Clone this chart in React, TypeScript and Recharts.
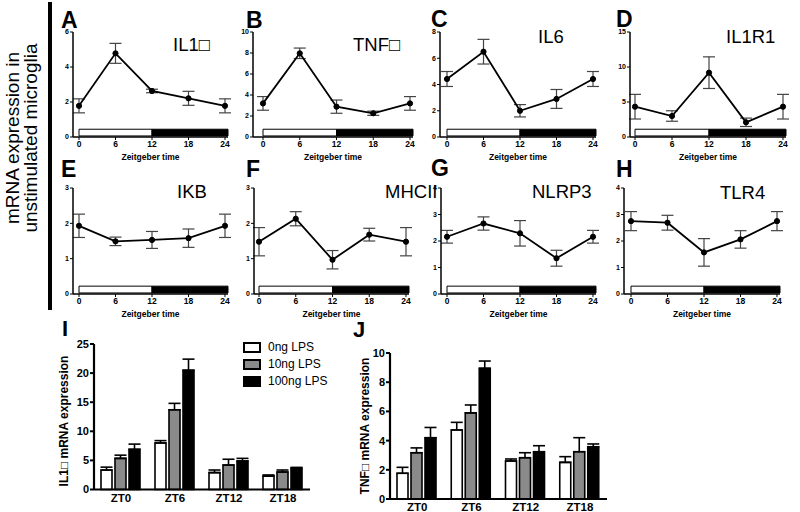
import React from 'react';
import {
  LineChart, Line, XAxis, YAxis, ErrorBar, ReferenceArea,
  BarChart, Bar, Legend,
} from 'recharts';

const FONT = '"Liberation Sans", Arial, Helvetica, sans-serif';

// ---------- Data: unstimulated microglia, mRNA over Zeitgeber time ----------
const HOURS = [0, 6, 12, 18, 24];

const IL1B_MEAN = [1.78, 4.78, 2.63, 2.21, 1.78];
const IL1B_ERR = [0.4, 0.57, 0.1, 0.4, 0.4];
const TNF_MEAN = [3.2, 7.97, 2.89, 2.26, 3.2];
const TNF_ERR = [0.65, 0.5, 0.63, 0.2, 0.65];
const IL6_MEAN = [4.42, 6.5, 2.0, 2.9, 4.42];
const IL6_ERR = [0.57, 0.94, 0.47, 0.72, 0.57];
const IL1R1_MEAN = [4.33, 3.0, 9.19, 2.1, 4.33];
const IL1R1_ERR = [1.76, 0.75, 2.26, 0.6, 1.76];
const IKB_MEAN = [1.93, 1.49, 1.53, 1.58, 1.93];
const IKB_ERR = [0.33, 0.12, 0.24, 0.26, 0.33];
const MHCII_MEAN = [1.48, 2.13, 0.97, 1.68, 1.48];
const MHCII_ERR = [0.4, 0.2, 0.26, 0.18, 0.4];
const NLRP3_MEAN = [2.16, 2.66, 2.29, 1.35, 2.16];
const NLRP3_ERR = [0.24, 0.25, 0.48, 0.3, 0.24];
const TLR4_MEAN = [2.75, 2.69, 1.57, 2.06, 2.75];
const TLR4_ERR = [0.36, 0.28, 0.52, 0.33, 0.36];

// ---------- Data: LPS stimulation ----------
const ZT = ['ZT0', 'ZT6', 'ZT12', 'ZT18'];
const LPS_LEVELS = ['0ng LPS', '10ng LPS', '100ng LPS'];

const IL1B_LPS0 = [3.34, 8.0, 2.9, 2.3];
const IL1B_LPS0_ERR = [0.5, 0.4, 0.45, 0.2];
const IL1B_LPS10 = [5.35, 13.7, 4.2, 3.0];
const IL1B_LPS10_ERR = [0.55, 1.1, 1.0, 0.35];
const IL1B_LPS100 = [6.9, 20.5, 4.9, 3.64];
const IL1B_LPS100_ERR = [0.9, 1.9, 0.45, 0.16];

const TNF_LPS0 = [1.76, 4.73, 2.6, 2.51];
const TNF_LPS0_ERR = [0.41, 0.52, 0.14, 0.39];
const TNF_LPS10 = [3.17, 5.9, 2.83, 3.24];
const TNF_LPS10_ERR = [0.33, 0.54, 0.34, 0.96];
const TNF_LPS100 = [4.2, 8.95, 3.24, 3.58];
const TNF_LPS100_ERR = [0.7, 0.5, 0.41, 0.19];

const IL1B_TICKS = [0, 5, 10, 15, 20, 25];
const TNF_TICKS = [0, 2, 4, 6, 8, 10];

// ---------- Layout of the time-course panels ----------
const PANELS = [
  { letter: 'A', title: 'IL1\u25A1', mean: IL1B_MEAN, err: IL1B_ERR, yMax: 6, yTicks: [0, 2, 4, 6], axisX: 73, x0: 79, x24: 225, top: 32, bottom: 137, tx: 173, ty: 51, lx: 61, ly: 28 },
  { letter: 'B', title: 'TNF\u25A1', mean: TNF_MEAN, err: TNF_ERR, yMax: 10, yTicks: [0, 2, 4, 6, 8, 10], axisX: 253, x0: 263, x24: 410, top: 32, bottom: 137, tx: 353, ty: 51, lx: 246, ly: 28 },
  { letter: 'C', title: 'IL6', mean: IL6_MEAN, err: IL6_ERR, yMax: 8, yTicks: [0, 2, 4, 6, 8], axisX: 440, x0: 447, x24: 593, top: 32, bottom: 137, tx: 538, ty: 43, lx: 431, ly: 27 },
  { letter: 'D', title: 'IL1R1', mean: IL1R1_MEAN, err: IL1R1_ERR, yMax: 15, yTicks: [0, 5, 10, 15], axisX: 630, x0: 635, x24: 783, top: 32, bottom: 137, tx: 726, ty: 43, lx: 616, ly: 27 },
  { letter: 'E', title: 'IKB', mean: IKB_MEAN, err: IKB_ERR, yMax: 3, yTicks: [0, 1, 2, 3], axisX: 73, x0: 79, x24: 225, top: 188, bottom: 294, tx: 177, ty: 198, lx: 61, ly: 177 },
  { letter: 'F', title: 'MHCII', mean: MHCII_MEAN, err: MHCII_ERR, yMax: 3, yTicks: [0, 1, 2, 3], axisX: 254, x0: 259, x24: 406, top: 188, bottom: 294, tx: 385, ty: 198, lx: 246, ly: 177 },
  { letter: 'G', title: 'NLRP3', mean: NLRP3_MEAN, err: NLRP3_ERR, yMax: 4, yTicks: [0, 1, 2, 3, 4], axisX: 441, x0: 447, x24: 593, top: 188, bottom: 294, tx: 532, ty: 198, lx: 431, ly: 176 },
  { letter: 'H', title: 'TLR4', mean: TLR4_MEAN, err: TLR4_ERR, yMax: 4, yTicks: [0, 1, 2, 3, 4], axisX: 624, x0: 631, x24: 777, top: 188, bottom: 294, tx: 720, ty: 199, lx: 616, ly: 177 },
];

function TimePanel({ p }: { p: any }) {
  const data = HOURS.map((h, i) => ({ h, mean: p.mean[i], err: p.err[i] }));
  const ML = 24, MT = 8, MR = 4, XH = 30;
  const xEnd = p.x24 + 3;
  const pxPerH = (p.x24 - p.x0) / 24;
  const dmin = -(p.x0 - p.axisX) / pxPerH;
  const dmax = 24 + (xEnd - p.x24) / pxPerH;
  const width = ML + (xEnd - p.axisX) + MR;
  const height = MT + (p.bottom - p.top) + XH;
  const barLo = p.yMax * 0.01;
  const barHi = p.yMax * 0.074;
  const tickStyle = { fontSize: 8.5, fontWeight: 700, fill: '#000', fontFamily: FONT };
  return (
    <div style={{ position: 'absolute', left: p.axisX - ML, top: p.top - MT }}>
      <LineChart width={width} height={height} data={data} margin={{ top: MT, right: MR, left: 0, bottom: 0 }}>
        <XAxis
          dataKey="h" type="number" domain={[dmin, dmax]} ticks={HOURS} interval={0}
          height={XH} tickSize={3} tickMargin={1}
          axisLine={{ stroke: '#000', strokeWidth: 1.5 }} tickLine={{ stroke: '#000', strokeWidth: 1 }}
          tick={tickStyle}
          label={{ value: 'Zeitgeber time', position: 'insideBottom', offset: 7, style: tickStyle }}
        />
        <YAxis
          type="number" domain={[0, p.yMax]} ticks={p.yTicks} interval={0} width={ML}
          tickSize={3} tickMargin={1}
          axisLine={{ stroke: '#000', strokeWidth: 1.5 }} tickLine={{ stroke: '#000', strokeWidth: 1 }}
          tick={{ fontSize: 7, fontWeight: 700, fill: '#000', fontFamily: FONT }}
        />
        <ReferenceArea x1={0} x2={12} y1={barLo} y2={barHi} fill="#fff" fillOpacity={1} stroke="#000" strokeWidth={1} ifOverflow="visible" />
        <ReferenceArea x1={12} x2={dmax} y1={barLo} y2={barHi} fill="#000" fillOpacity={1} stroke="#000" strokeWidth={1} ifOverflow="visible" />
        <Line
          dataKey="mean" stroke="#000" strokeWidth={1.8}
          dot={{ r: 2.6, fill: '#000', stroke: '#000', strokeWidth: 1 }}
          activeDot={false}
          isAnimationActive={false}
        >
          <ErrorBar dataKey="err" width={6} stroke="#444" strokeWidth={1.2} direction="y" isAnimationActive={false} />
        </Line>
      </LineChart>
    </div>
  );
}

const LPS_FILLS = ['#ffffff', '#8a8a8a', '#000000'];

const LPS_PANELS = [
  { key: 'I', v: [IL1B_LPS0, IL1B_LPS10, IL1B_LPS100], e: [IL1B_LPS0_ERR, IL1B_LPS10_ERR, IL1B_LPS100_ERR], yMax: 25, yTicks: IL1B_TICKS, axisX: 94, xEnd: 310, top: 344, bottom: 489.5, legend: true },
  { key: 'J', v: [TNF_LPS0, TNF_LPS10, TNF_LPS100], e: [TNF_LPS0_ERR, TNF_LPS10_ERR, TNF_LPS100_ERR], yMax: 10, yTicks: TNF_TICKS, axisX: 390, xEnd: 607, top: 353, bottom: 499, legend: false },
];

function LpsLegend() {
  return (
    <div style={{ fontFamily: FONT, fontSize: 12, color: '#000', lineHeight: '17px', whiteSpace: 'nowrap', width: 110 }}>
      {LPS_LEVELS.map((name, i) => (
        <div key={name} style={{ display: 'flex', alignItems: 'center', height: 17 }}>
          <span style={{ display: 'inline-block', flex: 'none', boxSizing: 'border-box', width: 18, height: 11, border: '2px solid #000', background: LPS_FILLS[i], marginRight: 7 }} />
          <span>{name}</span>
        </div>
      ))}
    </div>
  );
}

function LpsPanel({ q }: { q: any }) {
  const data = ZT.map((zt, i) => ({
    zt,
    v0: q.v[0][i], v1: q.v[1][i], v2: q.v[2][i],
    e0: [0, q.e[0][i]], e1: [0, q.e[1][i]], e2: [0, q.e[2][i]],
  }));
  const ML = 40, MT = 10, MR = 5, XH = 20;
  const width = ML + (q.xEnd - q.axisX) + MR;
  const height = MT + (q.bottom - q.top) + XH;
  const left = q.axisX - ML;
  const top = q.top - MT;
  const tickStyle = { fontSize: 11.5, fontWeight: 700, fill: '#000', fontFamily: FONT };
  return (
    <div style={{ position: 'absolute', left, top }}>
      <BarChart width={width} height={height} data={data} margin={{ top: MT, right: MR, left: 0, bottom: 0 }} barCategoryGap={7} barGap={3}>
        <XAxis dataKey="zt" tickLine={false} tickSize={2} tickMargin={2}
          axisLine={{ stroke: '#000', strokeWidth: 2.2 }} tick={tickStyle} height={XH} interval={0} />
        <YAxis type="number" domain={[0, q.yMax]} ticks={q.yTicks} interval={0} width={ML}
          tickSize={4} tickMargin={1}
          axisLine={{ stroke: '#000', strokeWidth: 2.2 }} tickLine={{ stroke: '#000', strokeWidth: 2 }}
          tick={{ ...tickStyle, fontSize: 11 }} />
        {[0, 1, 2].map((k) => (
          <Bar key={k} dataKey={'v' + k} name={LPS_LEVELS[k]} fill={LPS_FILLS[k]} stroke="#000" strokeWidth={1.6} isAnimationActive={false}>
            <ErrorBar dataKey={'e' + k} width={6} stroke="#000" strokeWidth={1.6} direction="y" isAnimationActive={false} />
          </Bar>
        ))}
        {q.legend && (
          <Legend layout="vertical" align="center" verticalAlign="middle"
            wrapperStyle={{ left: 243 - left, top: 338.5 - top, width: 110 }}
            content={() => <LpsLegend />} />
        )}
      </BarChart>
    </div>
  );
}

const TITLE_SIZE = 18.5;

export default function App() {
  return (
    <div style={{ position: 'absolute', left: 0, top: 0, width: 800, height: 512, background: '#fff', fontFamily: FONT, overflow: 'hidden' }}>
      {PANELS.map((p) => <TimePanel key={p.letter} p={p} />)}
      {LPS_PANELS.map((q) => <LpsPanel key={q.key} q={q} />)}
      <svg width={800} height={512} style={{ position: 'absolute', left: 0, top: 0, pointerEvents: 'none' }}>
        <rect x={48} y={2} width={4} height={308} fill="#000" />
        <text transform="translate(18.5,138) rotate(-90)" textAnchor="middle" fontFamily={FONT} fontSize={19} fill="#000">mRNA expression in</text>
        <text transform="translate(37,138) rotate(-90)" textAnchor="middle" fontFamily={FONT} fontSize={19} fill="#000">unstimulated microglia</text>
        {PANELS.map((p) => (
          <g key={p.letter}>
            <text x={p.lx} y={p.ly} fontFamily={FONT} fontWeight={700} fontSize={23} fill="#000">{p.letter}</text>
            <text x={p.tx} y={p.ty} fontFamily={FONT} fontSize={TITLE_SIZE} fill="#000">{p.title}</text>
          </g>
        ))}
        <text x={62} y={336} fontFamily={FONT} fontWeight={700} fontSize={22} fill="#000">I</text>
        <text x={353} y={337} fontFamily={FONT} fontWeight={700} fontSize={22} fill="#000">J</text>
        <text transform="translate(68,421) rotate(-90)" textAnchor="middle" fontFamily={FONT} fontWeight={700} fontSize={12} fill="#000">IL1{'\u25A1'} mRNA expression</text>
        <text transform="translate(369,426) rotate(-90)" textAnchor="middle" fontFamily={FONT} fontWeight={700} fontSize={12} fill="#000">TNF{'\u25A1'} mRNA expression</text>
      </svg>
    </div>
  );
}
